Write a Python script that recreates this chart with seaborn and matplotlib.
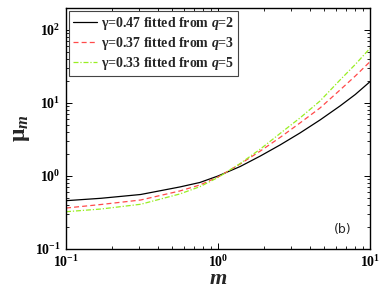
import numpy as np
import pandas as pd
import matplotlib
matplotlib.use("Agg")
import matplotlib.pyplot as plt
import seaborn as sns

# ---- data ----
m_vals = [0.1, 0.17, 0.31, 0.56, 0.76, 1.0, 1.4, 1.9, 2.56, 3.46, 4.69, 6.35, 8.0, 10.0]
mu_q2 = [0.459, 0.495, 0.558, 0.707, 0.815, 1.0, 1.349, 1.879, 2.66, 3.88, 5.85, 9.10, 13.07, 19.58]
mu_q3 = [0.364, 0.407, 0.469, 0.623, 0.753, 0.969, 1.46, 2.20, 3.37, 5.32, 8.54, 15.07, 23.4, 36.8]
mu_q5 = [0.324, 0.353, 0.410, 0.567, 0.714, 0.954, 1.483, 2.34, 3.82, 6.23, 10.65, 20.65, 33.7, 56.1]
gammas = ["0.47", "0.37", "0.33"]
qs = ["2", "3", "5"]
colors = ["#000000", "#ff4a4a", "#99ee22"]
styles = ["-", (0, (4, 2.5)), (0, (4, 1.5, 1, 1.5))]

sns.set_style("ticks")
plt.rcParams["font.family"] = ["Liberation Serif", "DejaVu Sans"]
plt.rcParams["font.weight"] = "bold"
plt.rcParams["mathtext.fontset"] = "custom"
plt.rcParams["mathtext.rm"] = "Liberation Serif:bold"
plt.rcParams["mathtext.it"] = "Liberation Serif:italic:bold"
plt.rcParams["mathtext.bf"] = "Liberation Serif:bold"

fig = plt.figure(figsize=(3.82, 2.92), dpi=100)
ax = fig.add_axes([66/382, 43/292, 304/382, 241/292])

series = [mu_q2, mu_q3, mu_q5]
for i, mu in enumerate(series):
    df = pd.DataFrame({"m": m_vals, "mu": mu})
    label = r"$\mathrm{\gamma}$=$\mathit{%s}$ fitted from $\mathit{q}$=$\mathit{%s}$" % (gammas[i], qs[i])
    sns.lineplot(data=df, x="m", y="mu", ax=ax, color=colors[i], linestyle=styles[i],
                 linewidth=0.9, label=label)

ax.set_xscale("log")
ax.set_yscale("log")
ax.set_xlim(0.1, 10)
ax.set_ylim(0.1, 200)

for s in ax.spines.values():
    s.set_color("black")
    s.set_linewidth(1.0)
    s.set_visible(True)

ax.xaxis.set_minor_locator(matplotlib.ticker.LogLocator(base=10, subs=np.arange(2, 10)))
ax.yaxis.set_minor_locator(matplotlib.ticker.LogLocator(base=10, subs=np.arange(2, 10)))
ax.tick_params(which="both", direction="in", top=True, right=True, left=True, bottom=True,
               labelsize=10, colors="black")
ax.tick_params(which="major", length=4, width=0.7, pad=4)
ax.tick_params(which="minor", length=2.2, width=0.6)

ax.set_xlabel(r"$\mathit{m}$", fontsize=16, labelpad=0)
ax.set_ylabel(r"$\mathrm{\mu}_{\mathit{m}}$", fontsize=17, labelpad=2)

leg = ax.legend(loc="upper left", fontsize=10, handlelength=1.7, handletextpad=0.3,
                borderpad=0.3, labelspacing=0.2, fancybox=False, framealpha=1,
                borderaxespad=0.2)
leg.get_frame().set_edgecolor("#444444")
leg.get_frame().set_linewidth(0.8)

ax.text(343/382, (292-229)/292, "(b)", transform=fig.transFigure, ha="center", va="center",
        fontsize=9, fontweight="normal", family="DejaVu Sans")

fig.savefig("out.png", dpi=100)
